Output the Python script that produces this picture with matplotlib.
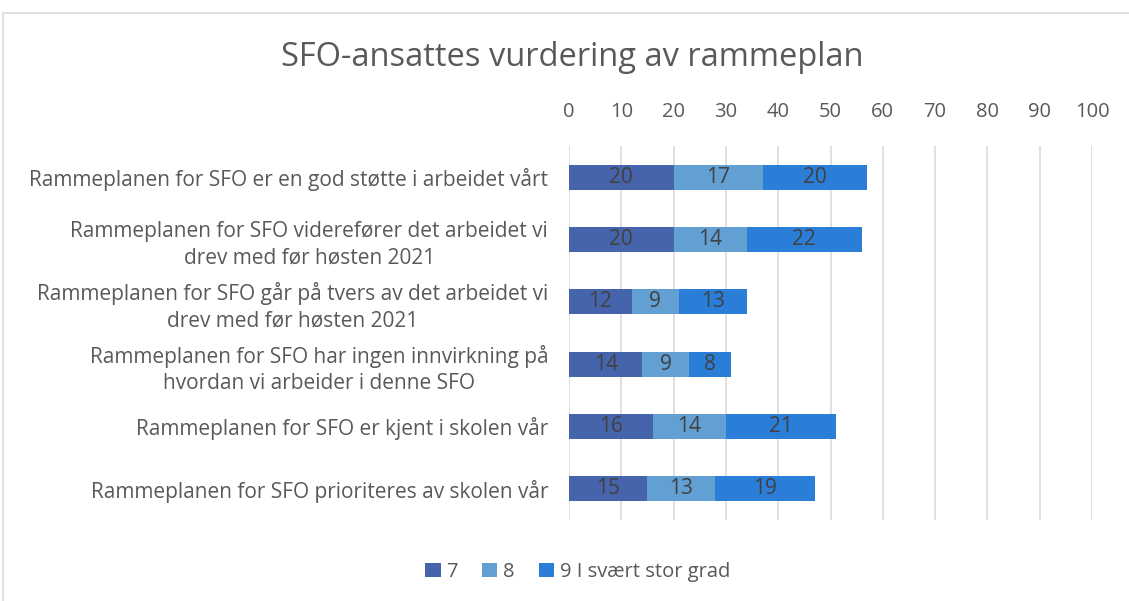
import matplotlib.pyplot as plt
from matplotlib.patches import Rectangle

plt.rcParams['font.family'] = ['Open Sans', 'DejaVu Sans']

categories = [
    "Rammeplanen for SFO er en god støtte i arbeidet vårt",
    "Rammeplanen for SFO viderefører det arbeidet vi\ndrev med før høsten 2021",
    "Rammeplanen for SFO går på tvers av det arbeidet vi\ndrev med før høsten 2021",
    "Rammeplanen for SFO har ingen innvirkning på\nhvordan vi arbeider i denne SFO",
    "Rammeplanen for SFO er kjent i skolen vår",
    "Rammeplanen for SFO prioriteres av skolen vår",
]
val_7 = [20, 20, 12, 14, 16, 15]
val_8 = [17, 14, 9, 9, 14, 13]
val_9 = [20, 22, 13, 8, 21, 19]
series_names = ["7", "8", "9 I svært stor grad"]
colors = ["#4664AB", "#629FD3", "#2A7ED7"]
ticks = list(range(0, 101, 10))

fig = plt.figure(figsize=(11.29, 6.01), dpi=100)
ax = fig.add_axes([569 / 1129, 1 - 520 / 601, (1092 - 569) / 1129, (520 - 146) / 601])

# thin grey frame round the chart area
fig.patches.append(Rectangle((3 / 1129, -0.1), 1.2, 1 - 13 / 601 + 0.1,
                             transform=fig.transFigure, fill=False,
                             edgecolor="#d9d9d9", linewidth=1.2))

y = list(range(len(categories)))
left = [0] * len(categories)
for vals, name, col in zip([val_7, val_8, val_9], series_names, colors):
    bars = ax.barh(y, vals, left=left, height=0.4, color=col, label=name, zorder=3)
    ax.bar_label(bars, labels=[str(v) for v in vals], label_type="center",
                 color="#404040", fontsize=15)
    left = [a + b for a, b in zip(left, vals)]

ax.set_xlim(0, 100)
ax.set_ylim(len(categories) - 0.5, -0.5)
ax.set_xticks(ticks)
ax.xaxis.tick_top()
ax.tick_params(axis="x", length=0, pad=17, labelsize=14.5, labelcolor="#595959")
ax.tick_params(axis="y", length=0, pad=15, labelsize=15, labelcolor="#595959")
ax.set_yticks(y)
ax.set_yticklabels(categories)
for lab in ax.get_yticklabels():
    lab.set_horizontalalignment("right")
    lab.set_multialignment("center")
    lab.set_linespacing(1.35)
ax.grid(axis="x", color="#d9d9d9", linewidth=1.2, zorder=0)
for s in ax.spines.values():
    s.set_visible(False)

fig.text(572 / 1129, 1 - 58 / 601, "SFO-ansattes vurdering av rammeplan",
         ha="center", va="center", fontsize=23.5, color="#595959")

fig.legend(loc="center", bbox_to_anchor=(578 / 1129, 1 - 572 / 601), ncol=3,
           frameon=False, fontsize=14.5, handlelength=0.75, handleheight=0.75,
           handletextpad=0.3, columnspacing=1.2, labelcolor="#595959")

fig.savefig("out.png", dpi=100)
